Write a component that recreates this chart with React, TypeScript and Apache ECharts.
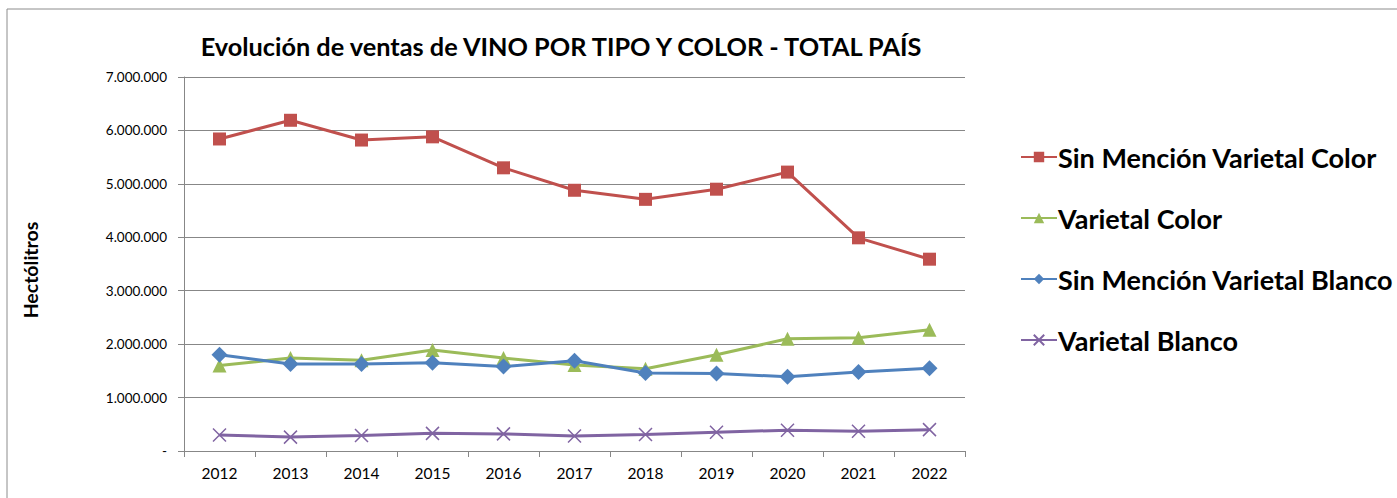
import React, { useEffect, useRef } from "react";
import * as echarts from "echarts";

const years = ["2012", "2013", "2014", "2015", "2016", "2017", "2018", "2019", "2020", "2021", "2022"];
const sinMencionColor = [5840000, 6190000, 5820000, 5880000, 5300000, 4880000, 4710000, 4900000, 5220000, 3990000, 3590000];
const varietalColor = [1600000, 1740000, 1700000, 1890000, 1740000, 1610000, 1540000, 1800000, 2100000, 2120000, 2270000];
const sinMencionBlanco = [1800000, 1630000, 1630000, 1650000, 1580000, 1690000, 1460000, 1450000, 1390000, 1480000, 1550000];
const varietalBlanco = [300000, 260000, 290000, 330000, 320000, 280000, 310000, 350000, 390000, 370000, 400000];
const seriesNames = ["Sin Mención Varietal Color", "Varietal Color", "Sin Mención Varietal Blanco", "Varietal Blanco"];
const yTicks = [0, 1000000, 2000000, 3000000, 4000000, 5000000, 6000000, 7000000];

const FONT = "Lato";

function fmt(v: number): string {
  if (v === 0) return "-";
  return String(Math.round(v)).replace(/\B(?=(\d{3})+(?!\d))/g, ".");
}

export default function App() {
  const ref = useRef<HTMLDivElement>(null);
  useEffect(() => {
    if (!ref.current) return;
    const chart = echarts.init(ref.current, null, { renderer: "svg" });
    const mk = (name: string, data: number[], color: string, symbol: string, size: number, extra: any = {}) => ({
      name,
      type: "line",
      data,
      symbol,
      symbolSize: size,
      lineStyle: { color, width: 3 },
      itemStyle: { color, ...extra },
    });
    chart.setOption({
      animation: false,
      backgroundColor: "#fff",
      graphic: [
        {
          type: "rect",
          shape: { x: 7, y: 9, width: 1500, height: 600 },
          style: { fill: "none", stroke: "#8c8c8c", lineWidth: 1 },
          silent: true,
          z: -1,
        },
      ],
      title: {
        text: "Evolución de ventas de VINO POR TIPO Y COLOR - TOTAL PAÍS",
        left: 556,
        top: 28,
        textAlign: "center",
        textStyle: { fontFamily: FONT, fontWeight: "bold", fontSize: 25.3, color: "#000" },
      },
      legend: {
        orient: "vertical",
        left: 1020,
        top: 142,
        padding: 0,
        itemWidth: 36,
        itemHeight: 13,
        itemGap: 31,
        data: seriesNames,
        textStyle: {
          fontFamily: FONT,
          fontWeight: "bold",
          fontSize: 27,
          lineHeight: 30,
          color: "#000",
          padding: [0, 0, 0, -4],
        },
      },
      grid: { left: 184, right: 432, top: 77, bottom: 47, containLabel: false },
      xAxis: {
        type: "category",
        data: years,
        boundaryGap: true,
        axisLine: { lineStyle: { color: "#878787", width: 1 } },
        axisTick: { show: true, length: 6, lineStyle: { color: "#878787" } },
        axisLabel: { fontFamily: FONT, fontSize: 15.5, color: "#000", margin: 14 },
      },
      yAxis: {
        type: "value",
        min: 0,
        max: 7000000,
        interval: 1000000,
        name: "Hectólitros",
        nameLocation: "middle",
        nameGap: 144,
        nameRotate: 90,
        nameTextStyle: { fontFamily: FONT, fontWeight: "bold", fontSize: 19.5, color: "#000", padding: [0, 12, 0, 0] },
        axisLine: { show: true, lineStyle: { color: "#878787" } },
        axisTick: { show: true, length: 6, lineStyle: { color: "#878787" } },
        splitLine: { lineStyle: { color: "#878787", width: 1 } },
        axisLabel: {
          fontFamily: FONT,
          fontSize: 13.5,
          color: "#000",
          margin: 17,
          formatter: (v: number) => (yTicks.includes(v) ? fmt(v) : ""),
        },
      },
      series: [
        mk(seriesNames[0], sinMencionColor, "#C0504D", "rect", 13),
        mk(seriesNames[1], varietalColor, "#9BBB59", "triangle", 14),
        mk(seriesNames[2], sinMencionBlanco, "#4F81BD", "diamond", 16),
        mk(seriesNames[3], varietalBlanco, "#8064A2", "path://M0,0L10,10M10,0L0,10", 13, {
          borderColor: "#8064A2",
          borderWidth: 1.5,
        }),
      ],
    });
    return () => chart.dispose();
  }, []);
  return <div ref={ref} style={{ width: 1397, height: 498, position: "absolute", left: 0, top: 0 }} />;
}
